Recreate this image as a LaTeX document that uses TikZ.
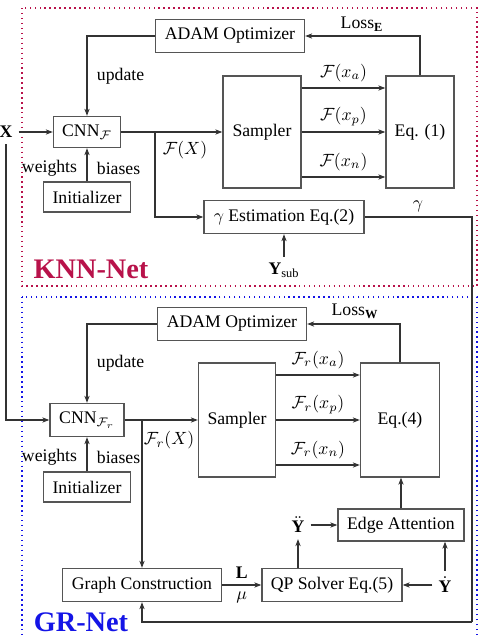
\documentclass[tikz,border=0pt]{standalone}
\usepackage{fontspec}
\setmainfont{Liberation Serif}
\usetikzlibrary{arrows.meta,calc}
\def\pxs{0.565pt}
\definecolor{knnRed}{HTML}{B8124A}
\definecolor{grBlue}{HTML}{1414E6}
\definecolor{boxGray}{HTML}{555555}
\tikzset{
  block/.style 2 args={draw=boxGray,line width=0.8pt,minimum width=#1*\pxs,
    minimum height=#2*\pxs,inner sep=0pt},
  flow/.style={-{Stealth[length=4pt,width=3pt]},draw=black!80,line width=0.6pt},
  wire/.style={draw=black!80,line width=0.6pt},
  netName/.style={font=\bfseries\fontsize{16}{19}\selectfont}
}

\begin{document}
\begin{tikzpicture}[x=\pxs,y=-\pxs]
    \useasboundingbox (0,0) rectangle (480,636);

    % KNN-Net
    \draw[knnRed,dotted,line width=0.8pt] (22,8) rectangle (477,286);
    \node[netName,text=knnRed] (knnName) at (91,269) {KNN-Net};
    \node[block={149}{33}] (adamA) at (230,36) {ADAM Optimizer};
    \node[block={67}{31}] (cnnA) at (87,132) {CNN$_{\mathcal{F}}$};
    \node[block={87}{30}] (initA) at (87,197) {Initializer};
    \node[block={78}{112}] (sampA) at (262,132) {Sampler};
    \node[block={68}{112}] (eqA) at (420,132) {Eq. (1)};
    \node[block={160}{33}] (gamma) at (284,217) {$\gamma$ Estimation Eq.(2)};
    \node (ysub) at (284,270) {$\mathbf{Y}_{\mathrm{sub}}$};
    \node (xin) at (6,132) {$\mathbf{X}$};
    \coordinate (splitA) at (155,132);
    \coordinate (gTurn) at (472,622);

    \draw[flow] (adamA.west) -| node[pos=0.75,right=2pt] {update} (cnnA.north);
    \draw[flow] (initA) -- node[pos=0.4,left=2pt] {weights} node[pos=0.4,right=2pt] {biases} (cnnA);
    \draw[flow] (xin) -- (cnnA);
    \draw[flow] (cnnA) -- (sampA);
    \draw[flow] (splitA) |- (gamma);
    \node at (185,150) {$\mathcal{F}(X)$};
    \draw[flow] ($(sampA.east)+(0,-44)$) -- node[above] {$\mathcal{F}(x_a)$} ($(eqA.west)+(0,-44)$);
    \draw[flow] (sampA.east) -- node[above] {$\mathcal{F}(x_p)$} (eqA.west);
    \draw[flow] ($(sampA.east)+(0,45)$) -- node[above] {$\mathcal{F}(x_n)$} ($(eqA.west)+(0,45)$);
    \draw[flow] (eqA.north) |- (adamA.east);
    \node at (362,24) {Loss$_{\mathbf{E}}$};
    \draw[flow] (ysub) -- (gamma.south);
    \node at (418,206) {$\gamma$};

    % GR-Net
    \draw[grBlue,dotted,line width=0.8pt] (22,297) rectangle (477,640);
    \node[netName,text=grBlue] (grName) at (81,622) {GR-Net};
    \node[block={149}{33}] (adamB) at (232,324) {ADAM Optimizer};
    \node[block={74}{33}] (cnnB) at (87,420) {CNN$_{\mathcal{F}_r}$};
    \node[block={87}{30}] (initB) at (87,487) {Initializer};
    \node[block={77}{114}] (sampB) at (237,420) {Sampler};
    \node[block={79}{114}] (eqB) at (400,420) {Eq.(4)};
    \node[block={159}{33}] (graph) at (142,585) {Graph Construction};
    \node[block={140}{33}] (qp) at (332,585) {QP Solver Eq.(5)};
    \node[block={126}{32}] (edge) at (401,525) {Edge Attention};
    \node (yddot) at (298,525) {$\ddot{\mathbf{Y}}$};
    \node (ydot) at (445,585) {$\dot{\mathbf{Y}}$};
    \coordinate (splitB) at (142,420);

    \draw[flow] (adamB.west) -| node[pos=0.75,right=2pt] {update} (cnnB.north);
    \draw[flow] (initB) -- node[pos=0.4,left=2pt] {weights} node[pos=0.4,right=2pt] {biases} (cnnB);
    \draw[flow] (xin) |- (cnnB);
    \draw[flow] (cnnB) -- (sampB);
    \draw[flow] (splitB) -- (graph.north);
    \node at (169,440) {$\mathcal{F}_r(X)$};
    \draw[flow] ($(sampB.east)+(0,-45)$) -- node[above] {$\mathcal{F}_r(x_a)$} ($(eqB.west)+(0,-45)$);
    \draw[flow] (sampB.east) -- node[above] {$\mathcal{F}_r(x_p)$} (eqB.west);
    \draw[flow] ($(sampB.east)+(0,45)$) -- node[above] {$\mathcal{F}_r(x_n)$} ($(eqB.west)+(0,45)$);
    \draw[flow] (eqB.north) |- (adamB.east);
    \node at (355,311) {Loss$_{\mathbf{W}}$};
    \draw[flow] (graph) -- node[above] {$\mathbf{L}$} node[below] {$\mu$} (qp);
    \draw[flow] (ydot) -- (qp);
    \draw[flow] (ydot) -- (ydot |- edge.south);
    \draw[flow] (yddot |- qp.north) -- (yddot);
    \draw[flow] (yddot) -- (edge);
    \draw[flow] (edge.north) -- node[right=2pt] {$\mathit{\Pi}$} (edge.north |- eqB.south);

    % gamma feeds the graph construction
    \draw[wire] (gamma.east) -| (gTurn);
    \draw[flow] (gTurn) -| (graph.south);
\end{tikzpicture}
\end{document}
